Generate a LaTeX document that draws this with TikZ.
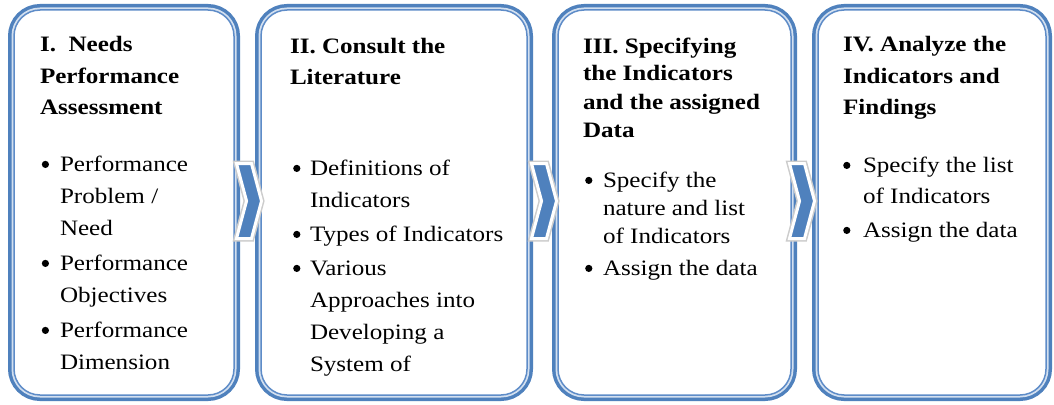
\documentclass[tikz,border=0pt]{standalone}
\usepackage{fontspec}
\setmainfont{Liberation Serif}[FakeStretch=1.14]
\usetikzlibrary{shapes.symbols}
\definecolor{boxblue}{HTML}{4F81BD}
\definecolor{bandlight}{HTML}{D3E0F0}
\definecolor{innerblue}{HTML}{5E8CC8}
\definecolor{chevblue}{HTML}{4F81BD}
\newcommand{\bigdot}{\tikz[baseline=0pt]\fill[black] (3.6pt,6.6pt) circle (3.6pt);}
\tikzset{
 stage/.style={rectangle, inner sep=0pt, outer sep=0pt, rounded corners=26pt,
   fill=white, draw=innerblue, line width=1.5pt,
   preaction={draw=boxblue, line width=12pt},
   preaction={draw=bandlight, line width=5pt}},
 chevron/.style={signal, signal to=east, signal from=west, signal pointer angle=150,
   minimum width=25pt, minimum height=75pt, inner sep=0pt, outer sep=0pt,
   fill=chevblue, draw=white, line width=3pt,
   preaction={draw=black!20, line width=6pt}},
 txt/.style={anchor=base west, inner sep=0pt, outer sep=0pt},
}
\begin{document}
\begin{tikzpicture}[x=1pt,y=-1pt]
\useasboundingbox[fill=white] (0,0) rectangle (1054,404);
% stage boxes
\node[stage, minimum width=220pt, minimum height=385pt] (b1) at (124,202.5) {};
\node[stage, minimum width=266pt, minimum height=385pt] (b2) at (394,202.5) {};
\node[stage, minimum width=233pt, minimum height=385pt] (b3) at (674.5,202.5) {};
\node[stage, minimum width=228pt, minimum height=385pt] (b4) at (932,202.5) {};
% chevrons between the stages
\node[chevron] (c1) at (249,201) {};
\node[chevron] (c2) at (544,201) {};
\node[chevron] (c3) at (802,201) {};
% box 1
\node[txt, font=\fontsize{22}{31.5}\selectfont\bfseries] (h1) at (40,52)
 {\begin{tabular}[t]{@{}l@{}}I.\ \ Needs\\ Performance\\ Assessment\end{tabular}};
\node[txt, font=\fontsize{22}{32}\selectfont] (l1) at (41.8,171)
 {\begin{tabular}[t]{@{}p{18.2pt}@{}l@{}}\bigdot & Performance\\ & Problem /\\ & Need\\[3pt]
  \bigdot & Performance\\ & Objectives\\[3pt]
  \bigdot & Performance\\ & Dimension\end{tabular}};
% box 2
\node[txt, font=\fontsize{22}{32}\selectfont\bfseries] (h2) at (290,53)
 {\begin{tabular}[t]{@{}l@{}}II. Consult the\\ Literature\end{tabular}};
\node[txt, font=\fontsize{22}{32}\selectfont] (l2) at (293.2,175)
 {\begin{tabular}[t]{@{}p{16.8pt}@{}l@{}}\bigdot & Definitions of\\ & Indicators\\[2pt]
  \bigdot & Types of Indicators\\[2pt]
  \bigdot & Various\\ & Approaches into\\ & Developing a\\ & System of\end{tabular}};
% box 3
\node[txt, font=\fontsize{22}{28}\selectfont\bfseries] (h3) at (583,53)
 {\begin{tabular}[t]{@{}l@{}}III. Specifying\\ the Indicators\\ and the assigned\\ Data\end{tabular}};
\node[txt, font=\fontsize{22}{28}\selectfont] (l3) at (585.2,187)
 {\begin{tabular}[t]{@{}p{17.8pt}@{}l@{}}\bigdot & Specify the\\ & nature and list\\ & of Indicators\\[4pt]
  \bigdot & Assign the data\end{tabular}};
% box 4
\node[txt, font=\fontsize{22}{31.5}\selectfont\bfseries] (h4) at (843,52)
 {\begin{tabular}[t]{@{}l@{}}IV. Analyze the\\ Indicators and\\ Findings\end{tabular}};
\node[txt, font=\fontsize{22}{31}\selectfont] (l4) at (843.2,172)
 {\begin{tabular}[t]{@{}p{19.8pt}@{}l@{}}\bigdot & Specify the list\\ & of Indicators\\[3pt]
  \bigdot & Assign the data\end{tabular}};
\end{tikzpicture}
\end{document}
